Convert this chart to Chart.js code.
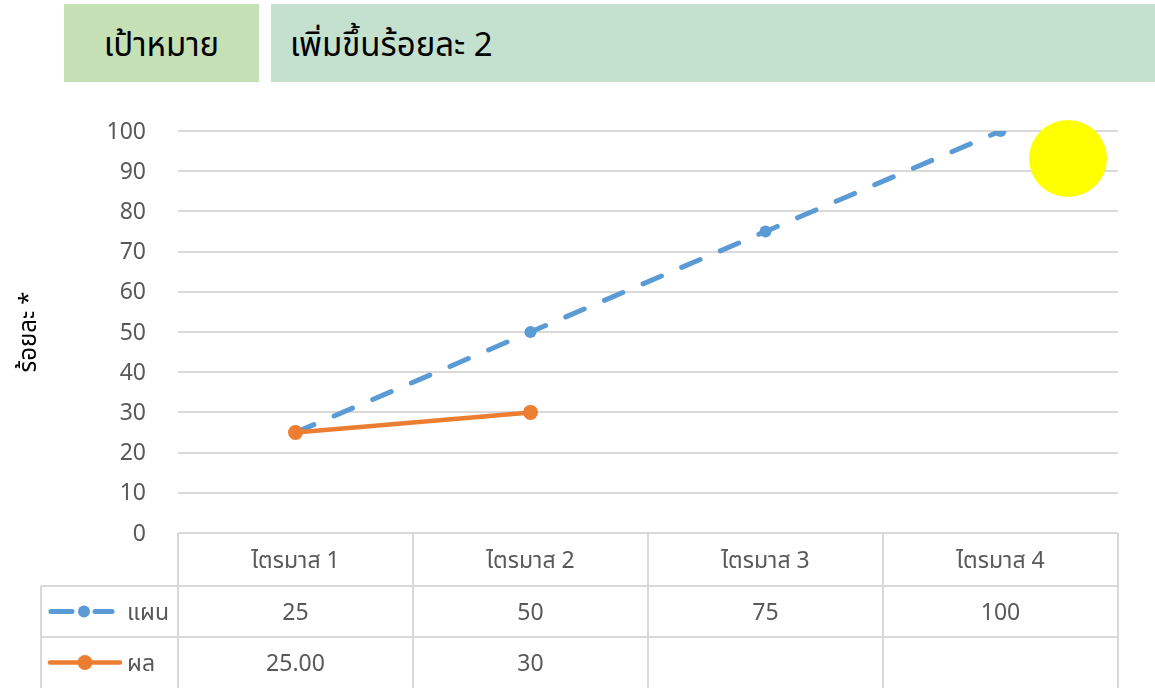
<!DOCTYPE html>
<html lang="th">
<head>
  <meta charset="UTF-8" />
  <title>เป้าหมาย</title>
  <script src="https://cdn.jsdelivr.net/npm/chart.js"></script>
  <style>
    body {
      margin: 0;
      width: 1155px;
      height: 688px;
      overflow: hidden;
      background: #fff;
      font-family: 'Noto Sans Thai', 'Noto Sans', sans-serif;
      position: relative;
    }
    .box {
      position: absolute;
      top: 4px;
      height: 78px;
      line-height: 84px;
      font-size: 33px;
      color: #000;
    }
    #goal { left: 64px; width: 195px; background: #c5e0b4; text-align: center; }
    #target { left: 271px; width: 884px; background: #c4e1d0; padding-left: 19px; box-sizing: border-box; }
    #sun {
      position: absolute;
      left: 1029px; top: 120px;
      width: 78px; height: 77px;
      border-radius: 50%;
      background: #ffff00;
    }
    canvas { position: absolute; left: 0; top: 0; }
  </style>
</head>
<body>
  <div class="box" id="goal">เป้าหมาย</div>
  <div class="box" id="target">เพิ่มขึ้นร้อยละ 2</div>
  <canvas id="chart" width="1155" height="688"></canvas>
  <div id="sun"></div>

  <script>
    const quarters = ['ไตรมาส 1', 'ไตรมาส 2', 'ไตรมาส 3', 'ไตรมาส 4'];
    const planValues = [25, 50, 75, 100];
    const actualValues = [25, 30, null, null];
    const planLabels = ['25', '50', '75', '100'];
    const actualLabels = ['25.00', '30', '', ''];

    const FONT = "'Noto Sans Thai', 'Noto Sans', sans-serif";
    const BLUE = '#5b9bd5';
    const ORANGE = '#ed7d31';
    const GRID = '#d9d9d9';

    // data table drawn under the plot, columns follow the x scale
    const dataTable = {
      id: 'dataTable',
      afterDraw(chart) {
        const ctx = chart.ctx;
        const area = chart.chartArea;
        const x = chart.scales.x;
        const half = (x.getPixelForValue(1) - x.getPixelForValue(0)) / 2;
        const top = area.bottom;
        const rows = [top, top + 53, top + 104, top + 155];
        const keyLeft = 41;
        const dy = 4;

        ctx.save();
        ctx.strokeStyle = GRID;
        ctx.lineWidth = 2;
        ctx.beginPath();
        ctx.moveTo(area.left, rows[0]); ctx.lineTo(area.right, rows[0]);
        ctx.moveTo(keyLeft, rows[1]); ctx.lineTo(area.right, rows[1]);
        ctx.moveTo(keyLeft, rows[2]); ctx.lineTo(area.right, rows[2]);
        ctx.moveTo(keyLeft, rows[1]); ctx.lineTo(keyLeft, rows[3]);
        for (let i = 0; i <= quarters.length; i++) {
          const px = Math.round(x.getPixelForValue(0) - half + i * half * 2);
          ctx.moveTo(px, rows[0]); ctx.lineTo(px, rows[3]);
        }
        ctx.stroke();

        ctx.font = '23px ' + FONT;
        ctx.fillStyle = '#595959';
        ctx.textAlign = 'center';
        ctx.textBaseline = 'middle';
        quarters.forEach((q, i) => {
          const px = x.getPixelForValue(i);
          ctx.fillText(q, px, (rows[0] + rows[1]) / 2 + dy);
          ctx.fillText(planLabels[i], px, (rows[1] + rows[2]) / 2 + dy);
          ctx.fillText(actualLabels[i], px, (rows[2] + rows[3]) / 2 + dy);
        });

        // legend keys
        const yPlan = (rows[1] + rows[2]) / 2;
        const yAct = (rows[2] + rows[3]) / 2;
        ctx.lineCap = 'round';
        ctx.strokeStyle = BLUE;
        ctx.lineWidth = 5;
        ctx.beginPath();
        ctx.moveTo(51, yPlan); ctx.lineTo(72, yPlan);
        ctx.moveTo(95, yPlan); ctx.lineTo(112, yPlan);
        ctx.stroke();
        ctx.fillStyle = BLUE;
        ctx.beginPath(); ctx.arc(84, yPlan, 6, 0, Math.PI * 2); ctx.fill();

        ctx.strokeStyle = ORANGE;
        ctx.lineWidth = 4.5;
        ctx.beginPath();
        ctx.moveTo(50, yAct); ctx.lineTo(120, yAct);
        ctx.stroke();
        ctx.fillStyle = ORANGE;
        ctx.beginPath(); ctx.arc(85, yAct, 7.5, 0, Math.PI * 2); ctx.fill();

        ctx.fillStyle = '#595959';
        ctx.textAlign = 'left';
        ctx.fillText('แผน', 127, yPlan + dy);
        ctx.fillText('ผล', 127, yAct + dy);
        ctx.restore();
      }
    };

    new Chart(document.getElementById('chart'), {
      type: 'line',
      data: {
        labels: quarters,
        datasets: [
          {
            label: 'แผน',
            data: planValues,
            borderColor: BLUE,
            backgroundColor: BLUE,
            borderWidth: 5,
            borderDash: [20, 22],
            borderCapStyle: 'round',
            pointRadius: 6,
            pointBorderWidth: 0,
            order: 2
          },
          {
            label: 'ผล',
            data: actualValues,
            borderColor: ORANGE,
            backgroundColor: ORANGE,
            borderWidth: 4.5,
            pointRadius: 7.5,
            pointBorderWidth: 0,
            order: 1
          }
        ]
      },
      options: {
        responsive: false,
        animation: false,
        layout: { padding: { left: 0, right: 37, top: 131, bottom: 155 } },
        plugins: {
          legend: { display: false },
          tooltip: { enabled: false }
        },
        scales: {
          x: {
            display: false,
            offset: true
          },
          y: {
            min: 0,
            max: 100,
            ticks: {
              stepSize: 10,
              padding: 32,
              labelOffset: 3,
              color: '#595959',
              font: { family: FONT, size: 23 }
            },
            grid: { color: GRID, lineWidth: 2, drawTicks: false },
            border: { display: false },
            title: {
              display: true,
              text: 'ร้อยละ *',
              color: '#000',
              font: { family: FONT, size: 24 },
              padding: { top: 17 }
            },
            afterFit(scale) { scale.width = 178; }
          }
        }
      },
      plugins: [dataTable]
    });
  </script>
</body>
</html>
